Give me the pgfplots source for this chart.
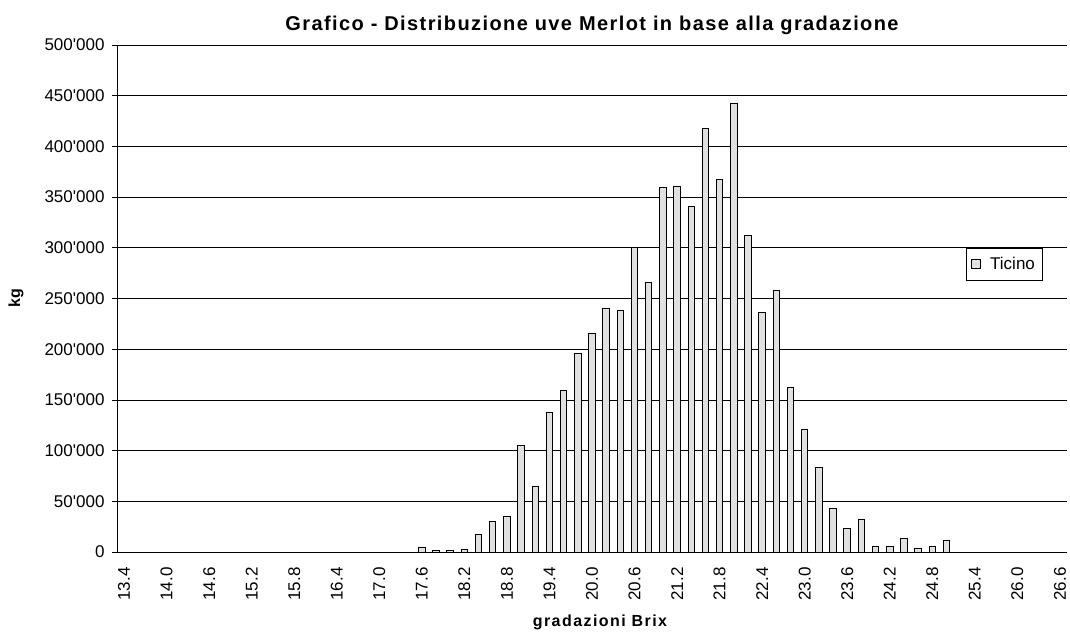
\documentclass[border=0pt]{standalone}
\usepackage{fontspec}
\setmainfont{Liberation Sans}
\usepackage{pgfplots}
\pgfplotsset{compat=1.18}
\definecolor{barfill}{RGB}{224,224,224}
\begin{document}
\begin{tikzpicture}
\begin{axis}[
  at={(0,0)}, anchor=south west,
  scale only axis,
  width=950bp, height=507bp,
  xmin=-0.5, xmax=66.5,
  ymin=0, ymax=500000,
  scaled y ticks=false,
  axis x line*=bottom, axis y line*=left,
  axis line style={black, line width=0.8bp, -},
  xtick={0,3,...,66},
  xticklabels={13.4,14.0,14.6,15.2,15.8,16.4,17.0,17.6,18.2,18.8,19.4,20.0,20.6,21.2,21.8,22.4,23.0,23.6,24.2,24.8,25.4,26.0,26.6},
  x tick label style={rotate=90, anchor=east, font=\fontsize{17bp}{20bp}\selectfont},
  xticklabel shift=7bp,
  xtick style={draw=none},
  ytick={0,50000,...,500000},
  yticklabels={0,50\textquotesingle000,100\textquotesingle000,150\textquotesingle000,200\textquotesingle000,250\textquotesingle000,300\textquotesingle000,350\textquotesingle000,400\textquotesingle000,450\textquotesingle000,500\textquotesingle000},
  y tick label style={font=\fontsize{17bp}{20bp}\selectfont},
  yticklabel shift=4bp,
  ytick align=outside,
  major tick length=5bp,
  ytick style={black, line width=0.8bp},
  ymajorgrids,
  major grid style={black, line width=0.8bp},
  title={\fontsize{20bp}{23bp}\selectfont\bfseries\addfontfeatures{LetterSpace=7}Grafico - Distribuzione uve Merlot in base alla gradazione},
  title style={at={(0.5,1)}, anchor=south, yshift=1bp},
  xlabel={\fontsize{16bp}{19bp}\selectfont\bfseries\addfontfeatures{LetterSpace=9}gradazioni Brix},
  xlabel style={at={(axis description cs:0.5,0)}, anchor=center, yshift=-70bp, xshift=8bp},
  ylabel={\fontsize{16bp}{19bp}\selectfont\bfseries kg},
  ylabel style={at={(axis description cs:-0.1063,0.5)}, anchor=center},
  ybar, bar width=6.5bp,
  legend style={at={(0.974,0.6)}, anchor=north east, draw=black, line width=0.8bp,
    font=\fontsize{17bp}{20bp}\selectfont, inner xsep=5bp, inner ysep=7bp,
    /tikz/every odd column/.append style={column sep=7bp}},
  legend image code/.code={\draw[#1, line width=0.8bp] (0bp,-4.5bp) rectangle (9bp,4.5bp);},
]
\addplot[fill=barfill, draw=black, line width=1bp] coordinates {
(21,4900) (22,1600) (23,1600) (24,2900) (25,16900) (26,30000) (27,35200)
(28,104900) (29,64800) (30,138000) (31,159600) (32,196000) (33,215000)
(34,239700) (35,238000) (36,300000) (37,266000) (38,359000) (39,360300)
(40,340300) (41,417600) (42,367100) (43,442700) (44,311900) (45,236300)
(46,258300) (47,162400) (48,120700) (49,83700) (50,43300) (51,23500)
(52,31700) (53,5200) (54,5200) (55,13400) (56,3300) (57,5200) (58,11700)
};
\addlegendentry{Ticino}
\end{axis}
\pgfresetboundingbox
\path[use as bounding box] (-117bp,-85bp) rectangle (953bp,552bp);
\end{tikzpicture}
\end{document}
